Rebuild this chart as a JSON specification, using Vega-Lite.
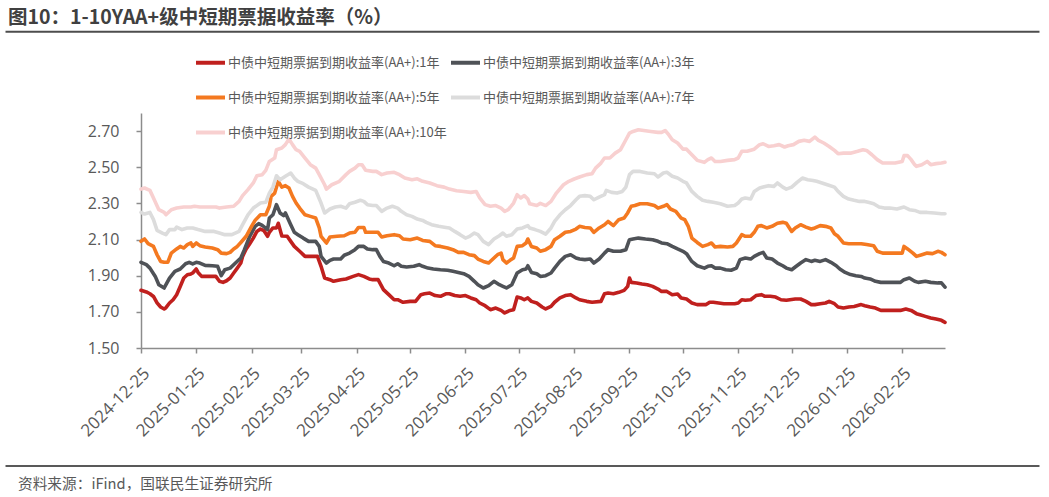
{
  "$schema": "https://vega.github.io/schema/vega-lite/v6.json",
  "width": 804,
  "height": 235,
  "autosize": {"type": "none"},
  "padding": {"left": 141, "top": 113, "right": 104, "bottom": 149},
  "background": "white",
  "config": {"view": {"stroke": null}, "font": "Noto Sans CJK SC"},
  "title": {
    "text": "图10：1-10YAA+级中短期票据收益率（%）",
    "anchor": "start",
    "frame": "group",
    "dx": -133,
    "fontSize": 19.5,
    "fontWeight": "bold",
    "color": "#404040",
    "font": "Noto Sans CJK SC",
    "offset": 2
  },
  "layer": [
    {
      "data": {
        "values": [
          {"s":"1年","d":"2024-12-25","v":1.819},{"s":"1年","d":"2024-12-28","v":1.81},{"s":"1年","d":"2024-12-30","v":1.80},{"s":"1年","d":"2025-01-01","v":1.785},{"s":"1年","d":"2025-01-03","v":1.75},{"s":"1年","d":"2025-01-05","v":1.727},{"s":"1年","d":"2025-01-07","v":1.716},{"s":"1年","d":"2025-01-08","v":1.723},{"s":"1年","d":"2025-01-10","v":1.749},{"s":"1年","d":"2025-01-12","v":1.767},{"s":"1年","d":"2025-01-14","v":1.795},{"s":"1年","d":"2025-01-16","v":1.84},{"s":"1年","d":"2025-01-18","v":1.887},{"s":"1年","d":"2025-01-20","v":1.905},{"s":"1年","d":"2025-01-22","v":1.91},{"s":"1年","d":"2025-01-23","v":1.915},{"s":"1年","d":"2025-01-25","v":1.937},{"s":"1年","d":"2025-01-26","v":1.918},{"s":"1年","d":"2025-01-28","v":1.896},{"s":"1年","d":"2025-01-31","v":1.896},{"s":"1年","d":"2025-02-03","v":1.896},{"s":"1年","d":"2025-02-05","v":1.896},{"s":"1年","d":"2025-02-07","v":1.869},{"s":"1年","d":"2025-02-09","v":1.863},{"s":"1年","d":"2025-02-11","v":1.872},{"s":"1年","d":"2025-02-13","v":1.887},{"s":"1年","d":"2025-02-15","v":1.915},{"s":"1年","d":"2025-02-17","v":1.942},{"s":"1年","d":"2025-02-19","v":1.97},{"s":"1年","d":"2025-02-20","v":2.007},{"s":"1年","d":"2025-02-22","v":2.048},{"s":"1年","d":"2025-02-24","v":2.077},{"s":"1年","d":"2025-02-26","v":2.108},{"s":"1年","d":"2025-02-28","v":2.145},{"s":"1年","d":"2025-03-02","v":2.158},{"s":"1年","d":"2025-03-04","v":2.149},{"s":"1年","d":"2025-03-06","v":2.118},{"s":"1年","d":"2025-03-07","v":2.14},{"s":"1年","d":"2025-03-09","v":2.164},{"s":"1年","d":"2025-03-11","v":2.164},{"s":"1年","d":"2025-03-12","v":2.19},{"s":"1年","d":"2025-03-14","v":2.12},{"s":"1年","d":"2025-03-17","v":2.118},{"s":"1年","d":"2025-03-19","v":2.09},{"s":"1年","d":"2025-03-21","v":2.062},{"s":"1年","d":"2025-03-24","v":2.035},{"s":"1年","d":"2025-03-27","v":2.007},{"s":"1年","d":"2025-03-30","v":2.007},{"s":"1年","d":"2025-04-03","v":2.007},{"s":"1年","d":"2025-04-05","v":1.952},{"s":"1年","d":"2025-04-07","v":1.887},{"s":"1年","d":"2025-04-10","v":1.878},{"s":"1年","d":"2025-04-12","v":1.869},{"s":"1年","d":"2025-04-16","v":1.878},{"s":"1年","d":"2025-04-19","v":1.882},{"s":"1年","d":"2025-04-23","v":1.896},{"s":"1年","d":"2025-04-26","v":1.906},{"s":"1年","d":"2025-04-29","v":1.896},{"s":"1年","d":"2025-05-02","v":1.882},{"s":"1年","d":"2025-05-04","v":1.878},{"s":"1年","d":"2025-05-07","v":1.878},{"s":"1年","d":"2025-05-10","v":1.823},{"s":"1年","d":"2025-05-13","v":1.795},{"s":"1年","d":"2025-05-16","v":1.767},{"s":"1年","d":"2025-05-18","v":1.767},{"s":"1年","d":"2025-05-21","v":1.753},{"s":"1年","d":"2025-05-25","v":1.758},{"s":"1年","d":"2025-05-28","v":1.758},{"s":"1年","d":"2025-05-31","v":1.795},{"s":"1年","d":"2025-06-02","v":1.80},{"s":"1年","d":"2025-06-05","v":1.804},{"s":"1年","d":"2025-06-08","v":1.79},{"s":"1年","d":"2025-06-11","v":1.786},{"s":"1年","d":"2025-06-14","v":1.80},{"s":"1年","d":"2025-06-16","v":1.80},{"s":"1年","d":"2025-06-19","v":1.79},{"s":"1年","d":"2025-06-22","v":1.786},{"s":"1年","d":"2025-06-25","v":1.79},{"s":"1年","d":"2025-06-28","v":1.777},{"s":"1年","d":"2025-07-01","v":1.767},{"s":"1年","d":"2025-07-03","v":1.749},{"s":"1年","d":"2025-07-06","v":1.734},{"s":"1年","d":"2025-07-09","v":1.712},{"s":"1年","d":"2025-07-12","v":1.721},{"s":"1年","d":"2025-07-15","v":1.708},{"s":"1年","d":"2025-07-17","v":1.694},{"s":"1年","d":"2025-07-20","v":1.708},{"s":"1年","d":"2025-07-22","v":1.712},{"s":"1年","d":"2025-07-24","v":1.782},{"s":"1年","d":"2025-07-26","v":1.777},{"s":"1年","d":"2025-07-28","v":1.767},{"s":"1年","d":"2025-07-30","v":1.777},{"s":"1年","d":"2025-08-01","v":1.758},{"s":"1年","d":"2025-08-04","v":1.749},{"s":"1年","d":"2025-08-07","v":1.727},{"s":"1年","d":"2025-08-09","v":1.716},{"s":"1年","d":"2025-08-12","v":1.73},{"s":"1年","d":"2025-08-14","v":1.753},{"s":"1年","d":"2025-08-17","v":1.777},{"s":"1年","d":"2025-08-20","v":1.79},{"s":"1年","d":"2025-08-23","v":1.795},{"s":"1年","d":"2025-08-26","v":1.777},{"s":"1年","d":"2025-08-28","v":1.767},{"s":"1年","d":"2025-09-01","v":1.758},{"s":"1年","d":"2025-09-04","v":1.753},{"s":"1年","d":"2025-09-09","v":1.758},{"s":"1年","d":"2025-09-11","v":1.80},{"s":"1年","d":"2025-09-13","v":1.804},{"s":"1年","d":"2025-09-16","v":1.80},{"s":"1年","d":"2025-09-19","v":1.808},{"s":"1年","d":"2025-09-22","v":1.819},{"s":"1年","d":"2025-09-24","v":1.841},{"s":"1年","d":"2025-09-25","v":1.887},{"s":"1年","d":"2025-09-26","v":1.863},{"s":"1年","d":"2025-09-29","v":1.86},{"s":"1年","d":"2025-10-02","v":1.854},{"s":"1年","d":"2025-10-05","v":1.85},{"s":"1年","d":"2025-10-08","v":1.841},{"s":"1年","d":"2025-10-11","v":1.826},{"s":"1年","d":"2025-10-13","v":1.813},{"s":"1年","d":"2025-10-16","v":1.813},{"s":"1年","d":"2025-10-19","v":1.795},{"s":"1年","d":"2025-10-22","v":1.799},{"s":"1年","d":"2025-10-24","v":1.777},{"s":"1年","d":"2025-10-27","v":1.771},{"s":"1年","d":"2025-10-30","v":1.749},{"s":"1年","d":"2025-11-02","v":1.74},{"s":"1年","d":"2025-11-07","v":1.74},{"s":"1年","d":"2025-11-09","v":1.753},{"s":"1年","d":"2025-11-11","v":1.753},{"s":"1年","d":"2025-11-14","v":1.749},{"s":"1年","d":"2025-11-17","v":1.745},{"s":"1年","d":"2025-11-23","v":1.745},{"s":"1年","d":"2025-11-25","v":1.749},{"s":"1年","d":"2025-11-27","v":1.767},{"s":"1年","d":"2025-11-29","v":1.764},{"s":"1年","d":"2025-12-02","v":1.767},{"s":"1年","d":"2025-12-05","v":1.79},{"s":"1年","d":"2025-12-08","v":1.795},{"s":"1年","d":"2025-12-10","v":1.786},{"s":"1年","d":"2025-12-13","v":1.786},{"s":"1年","d":"2025-12-16","v":1.782},{"s":"1年","d":"2025-12-19","v":1.767},{"s":"1年","d":"2025-12-22","v":1.764},{"s":"1年","d":"2025-12-24","v":1.767},{"s":"1年","d":"2025-12-27","v":1.771},{"s":"1年","d":"2025-12-30","v":1.771},{"s":"1年","d":"2026-01-02","v":1.758},{"s":"1年","d":"2026-01-05","v":1.74},{"s":"1年","d":"2026-01-07","v":1.74},{"s":"1年","d":"2026-01-10","v":1.745},{"s":"1年","d":"2026-01-13","v":1.749},{"s":"1年","d":"2026-01-15","v":1.758},{"s":"1年","d":"2026-01-18","v":1.745},{"s":"1年","d":"2026-01-20","v":1.727},{"s":"1年","d":"2026-01-23","v":1.721},{"s":"1年","d":"2026-01-26","v":1.727},{"s":"1年","d":"2026-01-29","v":1.73},{"s":"1年","d":"2026-02-02","v":1.74},{"s":"1年","d":"2026-02-04","v":1.734},{"s":"1年","d":"2026-02-07","v":1.727},{"s":"1年","d":"2026-02-10","v":1.721},{"s":"1年","d":"2026-02-13","v":1.708},{"s":"1年","d":"2026-02-17","v":1.708},{"s":"1年","d":"2026-02-20","v":1.708},{"s":"1年","d":"2026-02-24","v":1.708},{"s":"1年","d":"2026-02-27","v":1.716},{"s":"1年","d":"2026-03-02","v":1.708},{"s":"1年","d":"2026-03-05","v":1.69},{"s":"1年","d":"2026-03-07","v":1.684},{"s":"1年","d":"2026-03-10","v":1.675},{"s":"1年","d":"2026-03-13","v":1.666},{"s":"1年","d":"2026-03-16","v":1.66},{"s":"1年","d":"2026-03-19","v":1.653},{"s":"1年","d":"2026-03-21","v":1.642},

          {"s":"3年","d":"2024-12-25","v":1.974},{"s":"3年","d":"2024-12-28","v":1.961},{"s":"3年","d":"2024-12-30","v":1.942},{"s":"3年","d":"2025-01-02","v":1.896},{"s":"3年","d":"2025-01-04","v":1.85},{"s":"3年","d":"2025-01-07","v":1.832},{"s":"3年","d":"2025-01-08","v":1.85},{"s":"3年","d":"2025-01-10","v":1.887},{"s":"3年","d":"2025-01-13","v":1.924},{"s":"3年","d":"2025-01-16","v":1.937},{"s":"3年","d":"2025-01-19","v":1.966},{"s":"3年","d":"2025-01-21","v":1.974},{"s":"3年","d":"2025-01-23","v":1.965},{"s":"3年","d":"2025-01-25","v":1.974},{"s":"3年","d":"2025-01-27","v":1.97},{"s":"3年","d":"2025-01-30","v":1.957},{"s":"3年","d":"2025-02-03","v":1.955},{"s":"3年","d":"2025-02-06","v":1.952},{"s":"3年","d":"2025-02-08","v":1.90},{"s":"3年","d":"2025-02-10","v":1.933},{"s":"3年","d":"2025-02-13","v":1.942},{"s":"3年","d":"2025-02-16","v":1.97},{"s":"3年","d":"2025-02-19","v":1.998},{"s":"3年","d":"2025-02-21","v":2.044},{"s":"3年","d":"2025-02-24","v":2.118},{"s":"3年","d":"2025-02-27","v":2.173},{"s":"3年","d":"2025-03-01","v":2.188},{"s":"3年","d":"2025-03-03","v":2.178},{"s":"3年","d":"2025-03-06","v":2.155},{"s":"3年","d":"2025-03-07","v":2.219},{"s":"3年","d":"2025-03-09","v":2.237},{"s":"3年","d":"2025-03-11","v":2.293},{"s":"3年","d":"2025-03-13","v":2.247},{"s":"3年","d":"2025-03-15","v":2.232},{"s":"3年","d":"2025-03-16","v":2.247},{"s":"3年","d":"2025-03-19","v":2.182},{"s":"3年","d":"2025-03-21","v":2.14},{"s":"3年","d":"2025-03-23","v":2.127},{"s":"3年","d":"2025-03-26","v":2.108},{"s":"3年","d":"2025-03-29","v":2.09},{"s":"3年","d":"2025-04-02","v":2.09},{"s":"3年","d":"2025-04-04","v":2.062},{"s":"3年","d":"2025-04-05","v":2.007},{"s":"3年","d":"2025-04-08","v":1.97},{"s":"3年","d":"2025-04-10","v":1.985},{"s":"3年","d":"2025-04-12","v":1.992},{"s":"3年","d":"2025-04-16","v":1.992},{"s":"3年","d":"2025-04-18","v":2.013},{"s":"3年","d":"2025-04-21","v":2.025},{"s":"3年","d":"2025-04-24","v":2.044},{"s":"3年","d":"2025-04-26","v":2.062},{"s":"3年","d":"2025-04-29","v":2.062},{"s":"3年","d":"2025-05-01","v":2.048},{"s":"3年","d":"2025-05-04","v":2.044},{"s":"3年","d":"2025-05-06","v":2.044},{"s":"3年","d":"2025-05-08","v":2.007},{"s":"3年","d":"2025-05-10","v":1.979},{"s":"3年","d":"2025-05-13","v":1.97},{"s":"3年","d":"2025-05-16","v":1.955},{"s":"3年","d":"2025-05-18","v":1.966},{"s":"3年","d":"2025-05-20","v":1.952},{"s":"3年","d":"2025-05-23","v":1.948},{"s":"3年","d":"2025-05-27","v":1.952},{"s":"3年","d":"2025-05-30","v":1.961},{"s":"3年","d":"2025-06-01","v":1.952},{"s":"3年","d":"2025-06-04","v":1.942},{"s":"3年","d":"2025-06-07","v":1.937},{"s":"3年","d":"2025-06-11","v":1.933},{"s":"3年","d":"2025-06-15","v":1.93},{"s":"3年","d":"2025-06-18","v":1.924},{"s":"3年","d":"2025-06-21","v":1.918},{"s":"3年","d":"2025-06-24","v":1.911},{"s":"3年","d":"2025-06-27","v":1.896},{"s":"3年","d":"2025-06-30","v":1.869},{"s":"3年","d":"2025-07-02","v":1.85},{"s":"3年","d":"2025-07-05","v":1.832},{"s":"3年","d":"2025-07-08","v":1.845},{"s":"3年","d":"2025-07-11","v":1.869},{"s":"3年","d":"2025-07-14","v":1.85},{"s":"3年","d":"2025-07-16","v":1.841},{"s":"3年","d":"2025-07-18","v":1.832},{"s":"3年","d":"2025-07-21","v":1.85},{"s":"3年","d":"2025-07-24","v":1.915},{"s":"3年","d":"2025-07-27","v":1.933},{"s":"3年","d":"2025-07-29","v":1.937},{"s":"3年","d":"2025-07-30","v":1.955},{"s":"3年","d":"2025-08-01","v":1.918},{"s":"3年","d":"2025-08-04","v":1.911},{"s":"3年","d":"2025-08-06","v":1.896},{"s":"3年","d":"2025-08-09","v":1.90},{"s":"3年","d":"2025-08-12","v":1.915},{"s":"3年","d":"2025-08-14","v":1.942},{"s":"3年","d":"2025-08-17","v":1.979},{"s":"3年","d":"2025-08-20","v":2.007},{"s":"3年","d":"2025-08-23","v":2.016},{"s":"3年","d":"2025-08-26","v":1.998},{"s":"3年","d":"2025-08-28","v":1.992},{"s":"3年","d":"2025-08-31","v":1.989},{"s":"3年","d":"2025-09-03","v":1.992},{"s":"3年","d":"2025-09-05","v":1.97},{"s":"3年","d":"2025-09-08","v":1.992},{"s":"3年","d":"2025-09-11","v":2.025},{"s":"3年","d":"2025-09-13","v":2.044},{"s":"3年","d":"2025-09-16","v":2.035},{"s":"3年","d":"2025-09-20","v":2.035},{"s":"3年","d":"2025-09-23","v":2.044},{"s":"3年","d":"2025-09-25","v":2.099},{"s":"3年","d":"2025-09-27","v":2.103},{"s":"3年","d":"2025-09-30","v":2.108},{"s":"3年","d":"2025-10-04","v":2.103},{"s":"3年","d":"2025-10-08","v":2.099},{"s":"3年","d":"2025-10-11","v":2.09},{"s":"3年","d":"2025-10-13","v":2.081},{"s":"3年","d":"2025-10-16","v":2.077},{"s":"3年","d":"2025-10-19","v":2.062},{"s":"3年","d":"2025-10-22","v":2.048},{"s":"3年","d":"2025-10-25","v":2.035},{"s":"3年","d":"2025-10-27","v":2.022},{"s":"3年","d":"2025-10-30","v":1.979},{"s":"3年","d":"2025-11-02","v":1.955},{"s":"3年","d":"2025-11-06","v":1.942},{"s":"3年","d":"2025-11-08","v":1.952},{"s":"3年","d":"2025-11-10","v":1.955},{"s":"3年","d":"2025-11-12","v":1.942},{"s":"3年","d":"2025-11-15","v":1.942},{"s":"3年","d":"2025-11-18","v":1.933},{"s":"3年","d":"2025-11-21","v":1.93},{"s":"3年","d":"2025-11-24","v":1.942},{"s":"3年","d":"2025-11-26","v":1.989},{"s":"3年","d":"2025-11-29","v":1.998},{"s":"3年","d":"2025-12-02","v":1.992},{"s":"3年","d":"2025-12-04","v":2.007},{"s":"3年","d":"2025-12-07","v":2.022},{"s":"3年","d":"2025-12-09","v":2.029},{"s":"3年","d":"2025-12-11","v":1.998},{"s":"3年","d":"2025-12-14","v":1.992},{"s":"3年","d":"2025-12-17","v":1.97},{"s":"3年","d":"2025-12-20","v":1.955},{"s":"3年","d":"2025-12-22","v":1.942},{"s":"3年","d":"2025-12-25","v":1.933},{"s":"3年","d":"2025-12-27","v":1.948},{"s":"3年","d":"2025-12-30","v":1.97},{"s":"3年","d":"2026-01-02","v":1.989},{"s":"3年","d":"2026-01-05","v":1.979},{"s":"3年","d":"2026-01-07","v":1.985},{"s":"3年","d":"2026-01-10","v":1.979},{"s":"3年","d":"2026-01-13","v":1.989},{"s":"3年","d":"2026-01-16","v":1.974},{"s":"3年","d":"2026-01-19","v":1.955},{"s":"3年","d":"2026-01-21","v":1.937},{"s":"3年","d":"2026-01-24","v":1.918},{"s":"3年","d":"2026-01-27","v":1.906},{"s":"3年","d":"2026-01-30","v":1.90},{"s":"3年","d":"2026-02-02","v":1.896},{"s":"3年","d":"2026-02-04","v":1.887},{"s":"3年","d":"2026-02-07","v":1.882},{"s":"3年","d":"2026-02-10","v":1.869},{"s":"3年","d":"2026-02-13","v":1.863},{"s":"3年","d":"2026-02-18","v":1.863},{"s":"3年","d":"2026-02-21","v":1.863},{"s":"3年","d":"2026-02-24","v":1.863},{"s":"3年","d":"2026-02-26","v":1.878},{"s":"3年","d":"2026-03-01","v":1.887},{"s":"3年","d":"2026-03-04","v":1.869},{"s":"3年","d":"2026-03-06","v":1.863},{"s":"3年","d":"2026-03-10","v":1.869},{"s":"3年","d":"2026-03-13","v":1.863},{"s":"3年","d":"2026-03-17","v":1.86},{"s":"3年","d":"2026-03-19","v":1.86},{"s":"3年","d":"2026-03-21","v":1.837},

          {"s":"5年","d":"2024-12-25","v":2.09},{"s":"5年","d":"2024-12-27","v":2.103},{"s":"5年","d":"2024-12-29","v":2.077},{"s":"5年","d":"2025-01-01","v":2.062},{"s":"5年","d":"2025-01-03","v":2.016},{"s":"5年","d":"2025-01-05","v":1.979},{"s":"5年","d":"2025-01-07","v":1.974},{"s":"5年","d":"2025-01-09","v":1.974},{"s":"5年","d":"2025-01-11","v":2.025},{"s":"5年","d":"2025-01-14","v":2.048},{"s":"5年","d":"2025-01-16","v":2.062},{"s":"5年","d":"2025-01-18","v":2.053},{"s":"5年","d":"2025-01-20","v":2.072},{"s":"5年","d":"2025-01-22","v":2.081},{"s":"5年","d":"2025-01-23","v":2.062},{"s":"5年","d":"2025-01-25","v":2.081},{"s":"5年","d":"2025-01-27","v":2.066},{"s":"5年","d":"2025-01-30","v":2.059},{"s":"5年","d":"2025-02-03","v":2.053},{"s":"5年","d":"2025-02-06","v":2.044},{"s":"5年","d":"2025-02-08","v":2.025},{"s":"5年","d":"2025-02-11","v":2.022},{"s":"5年","d":"2025-02-13","v":2.029},{"s":"5年","d":"2025-02-15","v":2.048},{"s":"5年","d":"2025-02-17","v":2.062},{"s":"5年","d":"2025-02-19","v":2.084},{"s":"5年","d":"2025-02-22","v":2.118},{"s":"5年","d":"2025-02-25","v":2.173},{"s":"5年","d":"2025-02-27","v":2.206},{"s":"5年","d":"2025-03-02","v":2.237},{"s":"5年","d":"2025-03-05","v":2.237},{"s":"5年","d":"2025-03-07","v":2.284},{"s":"5年","d":"2025-03-08","v":2.339},{"s":"5年","d":"2025-03-10","v":2.357},{"s":"5年","d":"2025-03-12","v":2.422},{"s":"5年","d":"2025-03-14","v":2.39},{"s":"5年","d":"2025-03-16","v":2.398},{"s":"5年","d":"2025-03-18","v":2.385},{"s":"5年","d":"2025-03-20","v":2.339},{"s":"5年","d":"2025-03-22","v":2.302},{"s":"5年","d":"2025-03-24","v":2.274},{"s":"5年","d":"2025-03-27","v":2.237},{"s":"5年","d":"2025-03-30","v":2.228},{"s":"5年","d":"2025-04-02","v":2.219},{"s":"5年","d":"2025-04-04","v":2.164},{"s":"5年","d":"2025-04-05","v":2.118},{"s":"5年","d":"2025-04-08","v":2.081},{"s":"5年","d":"2025-04-10","v":2.114},{"s":"5年","d":"2025-04-14","v":2.118},{"s":"5年","d":"2025-04-18","v":2.121},{"s":"5年","d":"2025-04-21","v":2.136},{"s":"5年","d":"2025-04-24","v":2.14},{"s":"5年","d":"2025-04-26","v":2.167},{"s":"5年","d":"2025-04-29","v":2.167},{"s":"5年","d":"2025-04-30","v":2.14},{"s":"5年","d":"2025-05-04","v":2.14},{"s":"5年","d":"2025-05-07","v":2.14},{"s":"5年","d":"2025-05-09","v":2.114},{"s":"5年","d":"2025-05-12","v":2.121},{"s":"5年","d":"2025-05-16","v":2.127},{"s":"5年","d":"2025-05-19","v":2.121},{"s":"5年","d":"2025-05-21","v":2.103},{"s":"5年","d":"2025-05-25","v":2.099},{"s":"5年","d":"2025-05-29","v":2.108},{"s":"5年","d":"2025-06-01","v":2.095},{"s":"5年","d":"2025-06-05","v":2.09},{"s":"5年","d":"2025-06-08","v":2.066},{"s":"5年","d":"2025-06-11","v":2.062},{"s":"5年","d":"2025-06-15","v":2.053},{"s":"5年","d":"2025-06-18","v":2.044},{"s":"5年","d":"2025-06-21","v":2.029},{"s":"5年","d":"2025-06-24","v":2.029},{"s":"5年","d":"2025-06-27","v":2.016},{"s":"5年","d":"2025-06-30","v":2.011},{"s":"5年","d":"2025-07-02","v":1.992},{"s":"5年","d":"2025-07-05","v":1.979},{"s":"5年","d":"2025-07-08","v":1.97},{"s":"5年","d":"2025-07-11","v":1.998},{"s":"5年","d":"2025-07-13","v":2.016},{"s":"5年","d":"2025-07-15","v":2.025},{"s":"5年","d":"2025-07-16","v":1.989},{"s":"5年","d":"2025-07-18","v":1.97},{"s":"5年","d":"2025-07-20","v":1.985},{"s":"5年","d":"2025-07-22","v":1.998},{"s":"5年","d":"2025-07-24","v":2.062},{"s":"5年","d":"2025-07-27","v":2.066},{"s":"5年","d":"2025-07-29","v":2.081},{"s":"5年","d":"2025-07-30","v":2.103},{"s":"5年","d":"2025-08-01","v":2.062},{"s":"5年","d":"2025-08-04","v":2.053},{"s":"5年","d":"2025-08-06","v":2.035},{"s":"5年","d":"2025-08-09","v":2.044},{"s":"5年","d":"2025-08-12","v":2.062},{"s":"5年","d":"2025-08-14","v":2.099},{"s":"5年","d":"2025-08-17","v":2.118},{"s":"5年","d":"2025-08-20","v":2.14},{"s":"5年","d":"2025-08-23","v":2.145},{"s":"5年","d":"2025-08-26","v":2.158},{"s":"5年","d":"2025-08-28","v":2.173},{"s":"5年","d":"2025-08-31","v":2.167},{"s":"5年","d":"2025-09-03","v":2.164},{"s":"5年","d":"2025-09-05","v":2.14},{"s":"5年","d":"2025-09-08","v":2.164},{"s":"5年","d":"2025-09-11","v":2.182},{"s":"5年","d":"2025-09-13","v":2.20},{"s":"5年","d":"2025-09-16","v":2.177},{"s":"5年","d":"2025-09-19","v":2.21},{"s":"5年","d":"2025-09-22","v":2.219},{"s":"5年","d":"2025-09-24","v":2.247},{"s":"5年","d":"2025-09-26","v":2.284},{"s":"5年","d":"2025-09-28","v":2.288},{"s":"5年","d":"2025-10-01","v":2.298},{"s":"5年","d":"2025-10-05","v":2.298},{"s":"5年","d":"2025-10-09","v":2.288},{"s":"5年","d":"2025-10-11","v":2.274},{"s":"5年","d":"2025-10-14","v":2.284},{"s":"5年","d":"2025-10-16","v":2.293},{"s":"5年","d":"2025-10-18","v":2.269},{"s":"5年","d":"2025-10-21","v":2.256},{"s":"5年","d":"2025-10-24","v":2.219},{"s":"5年","d":"2025-10-26","v":2.21},{"s":"5年","d":"2025-10-28","v":2.173},{"s":"5年","d":"2025-10-30","v":2.108},{"s":"5年","d":"2025-11-02","v":2.084},{"s":"5年","d":"2025-11-05","v":2.062},{"s":"5年","d":"2025-11-08","v":2.072},{"s":"5年","d":"2025-11-10","v":2.081},{"s":"5年","d":"2025-11-12","v":2.059},{"s":"5年","d":"2025-11-15","v":2.062},{"s":"5年","d":"2025-11-19","v":2.059},{"s":"5年","d":"2025-11-22","v":2.062},{"s":"5年","d":"2025-11-24","v":2.081},{"s":"5年","d":"2025-11-27","v":2.127},{"s":"5年","d":"2025-11-29","v":2.118},{"s":"5年","d":"2025-12-02","v":2.118},{"s":"5年","d":"2025-12-04","v":2.14},{"s":"5年","d":"2025-12-06","v":2.173},{"s":"5年","d":"2025-12-08","v":2.177},{"s":"5年","d":"2025-12-11","v":2.164},{"s":"5年","d":"2025-12-14","v":2.173},{"s":"5年","d":"2025-12-17","v":2.19},{"s":"5年","d":"2025-12-20","v":2.195},{"s":"5年","d":"2025-12-22","v":2.19},{"s":"5年","d":"2025-12-25","v":2.145},{"s":"5年","d":"2025-12-27","v":2.164},{"s":"5年","d":"2025-12-30","v":2.182},{"s":"5年","d":"2026-01-02","v":2.169},{"s":"5年","d":"2026-01-05","v":2.158},{"s":"5年","d":"2026-01-07","v":2.164},{"s":"5年","d":"2026-01-10","v":2.177},{"s":"5年","d":"2026-01-13","v":2.173},{"s":"5年","d":"2026-01-16","v":2.164},{"s":"5年","d":"2026-01-18","v":2.132},{"s":"5年","d":"2026-01-20","v":2.118},{"s":"5年","d":"2026-01-23","v":2.081},{"s":"5年","d":"2026-01-26","v":2.077},{"s":"5年","d":"2026-01-29","v":2.077},{"s":"5年","d":"2026-02-02","v":2.077},{"s":"5年","d":"2026-02-05","v":2.072},{"s":"5年","d":"2026-02-09","v":2.066},{"s":"5年","d":"2026-02-11","v":2.035},{"s":"5年","d":"2026-02-14","v":2.025},{"s":"5年","d":"2026-02-18","v":2.025},{"s":"5年","d":"2026-02-21","v":2.025},{"s":"5年","d":"2026-02-25","v":2.025},{"s":"5年","d":"2026-02-26","v":2.062},{"s":"5年","d":"2026-02-28","v":2.048},{"s":"5年","d":"2026-03-03","v":2.025},{"s":"5年","d":"2026-03-05","v":2.007},{"s":"5年","d":"2026-03-08","v":2.016},{"s":"5年","d":"2026-03-11","v":2.025},{"s":"5年","d":"2026-03-14","v":2.022},{"s":"5年","d":"2026-03-17","v":2.035},{"s":"5年","d":"2026-03-19","v":2.029},{"s":"5年","d":"2026-03-21","v":2.016},

          {"s":"7年","d":"2024-12-25","v":2.25},{"s":"7年","d":"2024-12-27","v":2.241},{"s":"7年","d":"2024-12-30","v":2.25},{"s":"7年","d":"2025-01-01","v":2.21},{"s":"7年","d":"2025-01-03","v":2.151},{"s":"7年","d":"2025-01-06","v":2.136},{"s":"7年","d":"2025-01-08","v":2.127},{"s":"7年","d":"2025-01-10","v":2.155},{"s":"7年","d":"2025-01-13","v":2.155},{"s":"7年","d":"2025-01-14","v":2.169},{"s":"7年","d":"2025-01-17","v":2.155},{"s":"7年","d":"2025-01-20","v":2.164},{"s":"7年","d":"2025-01-23","v":2.164},{"s":"7年","d":"2025-01-26","v":2.155},{"s":"7年","d":"2025-01-30","v":2.145},{"s":"7年","d":"2025-02-04","v":2.145},{"s":"7年","d":"2025-02-07","v":2.136},{"s":"7年","d":"2025-02-10","v":2.127},{"s":"7年","d":"2025-02-14","v":2.127},{"s":"7年","d":"2025-02-18","v":2.145},{"s":"7年","d":"2025-02-20","v":2.182},{"s":"7年","d":"2025-02-23","v":2.237},{"s":"7年","d":"2025-02-26","v":2.274},{"s":"7年","d":"2025-03-02","v":2.302},{"s":"7年","d":"2025-03-05","v":2.306},{"s":"7年","d":"2025-03-07","v":2.357},{"s":"7年","d":"2025-03-09","v":2.39},{"s":"7年","d":"2025-03-11","v":2.453},{"s":"7年","d":"2025-03-13","v":2.431},{"s":"7年","d":"2025-03-16","v":2.45},{"s":"7年","d":"2025-03-19","v":2.468},{"s":"7年","d":"2025-03-21","v":2.44},{"s":"7年","d":"2025-03-23","v":2.422},{"s":"7年","d":"2025-03-26","v":2.409},{"s":"7年","d":"2025-03-29","v":2.39},{"s":"7年","d":"2025-04-02","v":2.372},{"s":"7年","d":"2025-04-05","v":2.302},{"s":"7年","d":"2025-04-07","v":2.247},{"s":"7年","d":"2025-04-10","v":2.269},{"s":"7年","d":"2025-04-13","v":2.28},{"s":"7年","d":"2025-04-16","v":2.284},{"s":"7年","d":"2025-04-19","v":2.274},{"s":"7年","d":"2025-04-21","v":2.298},{"s":"7年","d":"2025-04-24","v":2.306},{"s":"7年","d":"2025-04-27","v":2.317},{"s":"7年","d":"2025-04-29","v":2.311},{"s":"7年","d":"2025-05-01","v":2.293},{"s":"7年","d":"2025-05-04","v":2.288},{"s":"7年","d":"2025-05-06","v":2.288},{"s":"7年","d":"2025-05-09","v":2.256},{"s":"7年","d":"2025-05-12","v":2.274},{"s":"7年","d":"2025-05-15","v":2.284},{"s":"7年","d":"2025-05-18","v":2.274},{"s":"7年","d":"2025-05-20","v":2.256},{"s":"7年","d":"2025-05-23","v":2.237},{"s":"7年","d":"2025-05-26","v":2.228},{"s":"7年","d":"2025-05-29","v":2.213},{"s":"7年","d":"2025-06-01","v":2.206},{"s":"7年","d":"2025-06-03","v":2.195},{"s":"7年","d":"2025-06-06","v":2.182},{"s":"7年","d":"2025-06-10","v":2.173},{"s":"7年","d":"2025-06-14","v":2.167},{"s":"7年","d":"2025-06-16","v":2.164},{"s":"7年","d":"2025-06-19","v":2.145},{"s":"7年","d":"2025-06-22","v":2.127},{"s":"7年","d":"2025-06-25","v":2.108},{"s":"7年","d":"2025-06-27","v":2.116},{"s":"7年","d":"2025-06-30","v":2.136},{"s":"7年","d":"2025-07-02","v":2.127},{"s":"7年","d":"2025-07-05","v":2.09},{"s":"7年","d":"2025-07-08","v":2.072},{"s":"7年","d":"2025-07-11","v":2.103},{"s":"7年","d":"2025-07-14","v":2.121},{"s":"7年","d":"2025-07-16","v":2.136},{"s":"7年","d":"2025-07-18","v":2.118},{"s":"7年","d":"2025-07-21","v":2.127},{"s":"7年","d":"2025-07-24","v":2.158},{"s":"7年","d":"2025-07-27","v":2.164},{"s":"7年","d":"2025-07-30","v":2.177},{"s":"7年","d":"2025-07-31","v":2.164},{"s":"7年","d":"2025-08-03","v":2.155},{"s":"7年","d":"2025-08-06","v":2.145},{"s":"7年","d":"2025-08-09","v":2.13},{"s":"7年","d":"2025-08-12","v":2.164},{"s":"7年","d":"2025-08-14","v":2.20},{"s":"7年","d":"2025-08-17","v":2.237},{"s":"7年","d":"2025-08-20","v":2.265},{"s":"7年","d":"2025-08-23","v":2.288},{"s":"7年","d":"2025-08-26","v":2.32},{"s":"7年","d":"2025-08-28","v":2.339},{"s":"7年","d":"2025-08-31","v":2.343},{"s":"7年","d":"2025-09-03","v":2.339},{"s":"7年","d":"2025-09-05","v":2.32},{"s":"7年","d":"2025-09-08","v":2.335},{"s":"7年","d":"2025-09-11","v":2.348},{"s":"7年","d":"2025-09-12","v":2.372},{"s":"7年","d":"2025-09-15","v":2.361},{"s":"7年","d":"2025-09-18","v":2.357},{"s":"7年","d":"2025-09-21","v":2.366},{"s":"7年","d":"2025-09-23","v":2.39},{"s":"7年","d":"2025-09-25","v":2.459},{"s":"7年","d":"2025-09-27","v":2.477},{"s":"7年","d":"2025-10-01","v":2.477},{"s":"7年","d":"2025-10-05","v":2.468},{"s":"7年","d":"2025-10-09","v":2.464},{"s":"7年","d":"2025-10-11","v":2.446},{"s":"7年","d":"2025-10-14","v":2.468},{"s":"7年","d":"2025-10-16","v":2.472},{"s":"7年","d":"2025-10-19","v":2.45},{"s":"7年","d":"2025-10-22","v":2.44},{"s":"7年","d":"2025-10-25","v":2.422},{"s":"7年","d":"2025-10-27","v":2.413},{"s":"7年","d":"2025-10-30","v":2.366},{"s":"7年","d":"2025-11-02","v":2.339},{"s":"7年","d":"2025-11-05","v":2.317},{"s":"7年","d":"2025-11-08","v":2.311},{"s":"7年","d":"2025-11-11","v":2.306},{"s":"7年","d":"2025-11-15","v":2.298},{"s":"7年","d":"2025-11-19","v":2.284},{"s":"7年","d":"2025-11-23","v":2.288},{"s":"7年","d":"2025-11-25","v":2.302},{"s":"7年","d":"2025-11-27","v":2.324},{"s":"7年","d":"2025-11-29","v":2.33},{"s":"7年","d":"2025-12-02","v":2.324},{"s":"7年","d":"2025-12-04","v":2.366},{"s":"7年","d":"2025-12-07","v":2.385},{"s":"7年","d":"2025-12-09","v":2.39},{"s":"7年","d":"2025-12-12","v":2.398},{"s":"7年","d":"2025-12-15","v":2.394},{"s":"7年","d":"2025-12-17","v":2.413},{"s":"7年","d":"2025-12-20","v":2.39},{"s":"7年","d":"2025-12-22","v":2.379},{"s":"7年","d":"2025-12-25","v":2.39},{"s":"7年","d":"2025-12-28","v":2.416},{"s":"7年","d":"2025-12-31","v":2.44},{"s":"7年","d":"2026-01-03","v":2.431},{"s":"7年","d":"2026-01-06","v":2.427},{"s":"7年","d":"2026-01-08","v":2.422},{"s":"7年","d":"2026-01-11","v":2.413},{"s":"7年","d":"2026-01-14","v":2.403},{"s":"7年","d":"2026-01-18","v":2.39},{"s":"7年","d":"2026-01-20","v":2.366},{"s":"7年","d":"2026-01-23","v":2.339},{"s":"7年","d":"2026-01-26","v":2.324},{"s":"7年","d":"2026-01-29","v":2.317},{"s":"7年","d":"2026-02-01","v":2.311},{"s":"7年","d":"2026-02-04","v":2.311},{"s":"7年","d":"2026-02-06","v":2.306},{"s":"7年","d":"2026-02-09","v":2.298},{"s":"7年","d":"2026-02-12","v":2.28},{"s":"7年","d":"2026-02-15","v":2.274},{"s":"7年","d":"2026-02-18","v":2.274},{"s":"7年","d":"2026-02-22","v":2.269},{"s":"7年","d":"2026-02-26","v":2.28},{"s":"7年","d":"2026-03-01","v":2.265},{"s":"7年","d":"2026-03-04","v":2.261},{"s":"7年","d":"2026-03-07","v":2.25},{"s":"7年","d":"2026-03-11","v":2.25},{"s":"7年","d":"2026-03-15","v":2.247},{"s":"7年","d":"2026-03-19","v":2.243},{"s":"7年","d":"2026-03-21","v":2.243},

          {"s":"10年","d":"2024-12-25","v":2.379},{"s":"10年","d":"2024-12-27","v":2.385},{"s":"10年","d":"2024-12-30","v":2.372},{"s":"10年","d":"2025-01-01","v":2.33},{"s":"10年","d":"2025-01-04","v":2.265},{"s":"10年","d":"2025-01-07","v":2.25},{"s":"10年","d":"2025-01-08","v":2.237},{"s":"10年","d":"2025-01-11","v":2.265},{"s":"10年","d":"2025-01-14","v":2.274},{"s":"10年","d":"2025-01-18","v":2.28},{"s":"10年","d":"2025-01-22","v":2.28},{"s":"10年","d":"2025-01-24","v":2.284},{"s":"10年","d":"2025-01-27","v":2.28},{"s":"10年","d":"2025-01-31","v":2.28},{"s":"10年","d":"2025-02-05","v":2.28},{"s":"10年","d":"2025-02-07","v":2.274},{"s":"10年","d":"2025-02-11","v":2.28},{"s":"10年","d":"2025-02-15","v":2.284},{"s":"10年","d":"2025-02-18","v":2.311},{"s":"10年","d":"2025-02-20","v":2.343},{"s":"10年","d":"2025-02-23","v":2.376},{"s":"10年","d":"2025-02-26","v":2.413},{"s":"10年","d":"2025-02-28","v":2.453},{"s":"10年","d":"2025-03-03","v":2.459},{"s":"10年","d":"2025-03-05","v":2.483},{"s":"10年","d":"2025-03-07","v":2.532},{"s":"10年","d":"2025-03-10","v":2.551},{"s":"10年","d":"2025-03-11","v":2.597},{"s":"10年","d":"2025-03-14","v":2.606},{"s":"10年","d":"2025-03-16","v":2.625},{"s":"10年","d":"2025-03-18","v":2.656},{"s":"10年","d":"2025-03-20","v":2.625},{"s":"10年","d":"2025-03-22","v":2.597},{"s":"10年","d":"2025-03-24","v":2.588},{"s":"10年","d":"2025-03-27","v":2.551},{"s":"10年","d":"2025-03-30","v":2.514},{"s":"10年","d":"2025-04-02","v":2.495},{"s":"10年","d":"2025-04-04","v":2.459},{"s":"10年","d":"2025-04-07","v":2.403},{"s":"10年","d":"2025-04-08","v":2.379},{"s":"10年","d":"2025-04-11","v":2.403},{"s":"10年","d":"2025-04-15","v":2.42},{"s":"10年","d":"2025-04-19","v":2.459},{"s":"10年","d":"2025-04-21","v":2.477},{"s":"10年","d":"2025-04-24","v":2.495},{"s":"10年","d":"2025-04-26","v":2.514},{"s":"10年","d":"2025-04-28","v":2.514},{"s":"10年","d":"2025-04-30","v":2.483},{"s":"10年","d":"2025-05-04","v":2.477},{"s":"10年","d":"2025-05-06","v":2.477},{"s":"10年","d":"2025-05-09","v":2.459},{"s":"10年","d":"2025-05-12","v":2.468},{"s":"10年","d":"2025-05-16","v":2.472},{"s":"10年","d":"2025-05-19","v":2.459},{"s":"10年","d":"2025-05-22","v":2.44},{"s":"10年","d":"2025-05-26","v":2.431},{"s":"10年","d":"2025-05-29","v":2.436},{"s":"10年","d":"2025-06-01","v":2.422},{"s":"10年","d":"2025-06-05","v":2.413},{"s":"10年","d":"2025-06-09","v":2.398},{"s":"10年","d":"2025-06-13","v":2.39},{"s":"10年","d":"2025-06-16","v":2.379},{"s":"10年","d":"2025-06-20","v":2.37},{"s":"10年","d":"2025-06-24","v":2.366},{"s":"10年","d":"2025-06-28","v":2.361},{"s":"10年","d":"2025-07-01","v":2.366},{"s":"10年","d":"2025-07-03","v":2.33},{"s":"10年","d":"2025-07-06","v":2.293},{"s":"10年","d":"2025-07-09","v":2.284},{"s":"10年","d":"2025-07-12","v":2.288},{"s":"10年","d":"2025-07-15","v":2.274},{"s":"10年","d":"2025-07-17","v":2.256},{"s":"10年","d":"2025-07-19","v":2.265},{"s":"10年","d":"2025-07-22","v":2.302},{"s":"10年","d":"2025-07-24","v":2.348},{"s":"10年","d":"2025-07-26","v":2.33},{"s":"10年","d":"2025-07-28","v":2.343},{"s":"10年","d":"2025-07-30","v":2.324},{"s":"10年","d":"2025-07-31","v":2.298},{"s":"10年","d":"2025-08-04","v":2.288},{"s":"10年","d":"2025-08-06","v":2.30},{"s":"10年","d":"2025-08-09","v":2.288},{"s":"10年","d":"2025-08-12","v":2.311},{"s":"10年","d":"2025-08-15","v":2.357},{"s":"10年","d":"2025-08-19","v":2.403},{"s":"10年","d":"2025-08-22","v":2.422},{"s":"10年","d":"2025-08-25","v":2.435},{"s":"10年","d":"2025-08-28","v":2.446},{"s":"10年","d":"2025-09-01","v":2.459},{"s":"10年","d":"2025-09-04","v":2.464},{"s":"10年","d":"2025-09-06","v":2.495},{"s":"10年","d":"2025-09-09","v":2.523},{"s":"10年","d":"2025-09-11","v":2.551},{"s":"10年","d":"2025-09-14","v":2.551},{"s":"10年","d":"2025-09-17","v":2.578},{"s":"10年","d":"2025-09-20","v":2.597},{"s":"10年","d":"2025-09-23","v":2.652},{"s":"10年","d":"2025-09-25","v":2.689},{"s":"10年","d":"2025-09-27","v":2.698},{"s":"10年","d":"2025-09-30","v":2.707},{"s":"10年","d":"2025-10-03","v":2.703},{"s":"10年","d":"2025-10-07","v":2.698},{"s":"10年","d":"2025-10-11","v":2.693},{"s":"10年","d":"2025-10-13","v":2.693},{"s":"10年","d":"2025-10-15","v":2.703},{"s":"10年","d":"2025-10-17","v":2.68},{"s":"10年","d":"2025-10-19","v":2.652},{"s":"10年","d":"2025-10-22","v":2.634},{"s":"10年","d":"2025-10-25","v":2.60},{"s":"10年","d":"2025-10-27","v":2.60},{"s":"10年","d":"2025-10-30","v":2.569},{"s":"10年","d":"2025-11-02","v":2.538},{"s":"10年","d":"2025-11-06","v":2.527},{"s":"10年","d":"2025-11-08","v":2.542},{"s":"10年","d":"2025-11-10","v":2.551},{"s":"10年","d":"2025-11-12","v":2.532},{"s":"10年","d":"2025-11-15","v":2.532},{"s":"10年","d":"2025-11-19","v":2.538},{"s":"10年","d":"2025-11-23","v":2.542},{"s":"10年","d":"2025-11-25","v":2.551},{"s":"10年","d":"2025-11-27","v":2.588},{"s":"10年","d":"2025-11-30","v":2.588},{"s":"10年","d":"2025-12-04","v":2.60},{"s":"10年","d":"2025-12-07","v":2.625},{"s":"10年","d":"2025-12-09","v":2.63},{"s":"10年","d":"2025-12-12","v":2.615},{"s":"10年","d":"2025-12-15","v":2.619},{"s":"10年","d":"2025-12-18","v":2.625},{"s":"10年","d":"2025-12-21","v":2.612},{"s":"10年","d":"2025-12-23","v":2.619},{"s":"10年","d":"2025-12-26","v":2.625},{"s":"10年","d":"2025-12-29","v":2.643},{"s":"10年","d":"2026-01-01","v":2.649},{"s":"10年","d":"2026-01-04","v":2.643},{"s":"10年","d":"2026-01-07","v":2.667},{"s":"10年","d":"2026-01-09","v":2.649},{"s":"10年","d":"2026-01-12","v":2.634},{"s":"10年","d":"2026-01-15","v":2.615},{"s":"10年","d":"2026-01-18","v":2.593},{"s":"10年","d":"2026-01-20","v":2.575},{"s":"10年","d":"2026-01-23","v":2.578},{"s":"10年","d":"2026-01-27","v":2.578},{"s":"10年","d":"2026-01-31","v":2.588},{"s":"10年","d":"2026-02-03","v":2.597},{"s":"10年","d":"2026-02-05","v":2.593},{"s":"10年","d":"2026-02-08","v":2.569},{"s":"10年","d":"2026-02-11","v":2.542},{"s":"10年","d":"2026-02-14","v":2.523},{"s":"10年","d":"2026-02-18","v":2.523},{"s":"10年","d":"2026-02-21","v":2.523},{"s":"10年","d":"2026-02-25","v":2.532},{"s":"10年","d":"2026-02-26","v":2.564},{"s":"10年","d":"2026-02-28","v":2.564},{"s":"10年","d":"2026-03-02","v":2.542},{"s":"10年","d":"2026-03-04","v":2.514},{"s":"10年","d":"2026-03-05","v":2.505},{"s":"10年","d":"2026-03-08","v":2.514},{"s":"10年","d":"2026-03-11","v":2.532},{"s":"10年","d":"2026-03-13","v":2.514},{"s":"10年","d":"2026-03-16","v":2.52},{"s":"10年","d":"2026-03-19","v":2.523},{"s":"10年","d":"2026-03-21","v":2.527}
        ]
      },
      "mark": {"type": "line", "strokeWidth": 3.6, "strokeJoin": "round", "strokeCap": "round"},
      "encoding": {
        "x": {
          "field": "d",
          "type": "temporal",
          "scale": {
            "type": "utc",
            "domain": [
              {"year": 2024, "month": 12, "date": 25, "utc": true},
              {"year": 2026, "month": 3, "date": 21, "utc": true}
            ]
          },
          "axis": {
            "title": null,
            "grid": false,
            "format": "%Y-%m-%d",
            "tickCount": 30,
            "values": [
              {"year": 2024, "month": 12, "date": 25, "utc": true},
              {"year": 2025, "month": 1, "date": 25, "utc": true},
              {"year": 2025, "month": 2, "date": 25, "utc": true},
              {"year": 2025, "month": 3, "date": 25, "utc": true},
              {"year": 2025, "month": 4, "date": 25, "utc": true},
              {"year": 2025, "month": 5, "date": 25, "utc": true},
              {"year": 2025, "month": 6, "date": 25, "utc": true},
              {"year": 2025, "month": 7, "date": 25, "utc": true},
              {"year": 2025, "month": 8, "date": 25, "utc": true},
              {"year": 2025, "month": 9, "date": 25, "utc": true},
              {"year": 2025, "month": 10, "date": 25, "utc": true},
              {"year": 2025, "month": 11, "date": 25, "utc": true},
              {"year": 2025, "month": 12, "date": 25, "utc": true},
              {"year": 2026, "month": 1, "date": 25, "utc": true},
              {"year": 2026, "month": 2, "date": 25, "utc": true}
            ],
            "labelAngle": -45,
            "labelFlush": false,
            "labelOverlap": false,
            "labelFont": "Open Sans",
            "labelFontSize": 17,
            "labelColor": "#595959",
            "labelPadding": 12,
            "tickSize": 5,
            "tickWidth": 1.5,
            "tickColor": "#8C8C8C",
            "domainColor": "#8C8C8C",
            "domainWidth": 1.5
          }
        },
        "y": {
          "field": "v",
          "type": "quantitative",
          "scale": {"domain": [1.5, 2.8], "nice": false, "zero": false},
          "axis": {
            "title": null,
            "grid": false,
            "tickCount": 10,
            "values": [1.5, 1.7, 1.9, 2.1, 2.3, 2.5, 2.7],
            "format": ".2f",
            "labelOverlap": false,
            "labelFont": "Open Sans",
            "labelFontSize": 16,
            "labelColor": "#595959",
            "labelPadding": 17,
            "tickSize": 5,
            "tickWidth": 1.5,
            "tickColor": "#8C8C8C",
            "domainColor": "#8C8C8C",
            "domainWidth": 1.5
          }
        },
        "color": {
          "field": "s",
          "type": "nominal",
          "scale": {
            "domain": ["1年", "3年", "5年", "7年", "10年"],
            "range": ["#C0201E", "#4F5257", "#F47920", "#DCDCDC", "#F8D0D0"]
          },
          "legend": {
            "title": null,
            "orient": "none",
            "legendX": 53,
            "legendY": -67,
            "columns": 2,
            "direction": "horizontal",
            "padding": 0,
            "symbolType": "stroke",
            "symbolSize": 841,
            "symbolStrokeWidth": 4,
            "labelFont": "Noto Sans CJK SC",
            "labelFontSize": 13,
            "labelColor": "#595959",
            "labelOffset": 1,
            "labelLimit": 400,
            "rowPadding": 10,
            "columnPadding": -4,
            "labelExpr": "'中债中短期票据到期收益率(AA+):' + datum.label"
          }
        }
      }
    },
    {
      "data": {"values": [{}]},
      "mark": {"type": "rule", "strokeWidth": 2, "color": "#4D4D4D"},
      "encoding": {
        "x": {"datum": {"year": 2024, "month": 10, "date": 10, "utc": true}, "type": "temporal"},
        "x2": {"datum": {"year": 2026, "month": 5, "date": 13, "utc": true}},
        "y": {"datum": 3.25, "type": "quantitative"}
      }
    },
    {
      "data": {"values": [{}]},
      "mark": {"type": "rule", "strokeWidth": 2, "color": "#595959"},
      "encoding": {
        "x": {"datum": {"year": 2024, "month": 10, "date": 10, "utc": true}, "type": "temporal"},
        "x2": {"datum": {"year": 2026, "month": 5, "date": 13, "utc": true}},
        "y": {"datum": 0.847, "type": "quantitative"}
      }
    },
    {
      "data": {"values": [{}]},
      "mark": {"type": "text", "align": "left", "baseline": "middle", "fontSize": 14.7, "color": "#595959", "font": "Noto Sans CJK SC"},
      "encoding": {
        "x": {"datum": {"year": 2024, "month": 10, "date": 17, "utc": true}, "type": "temporal"},
        "y": {"datum": 0.742, "type": "quantitative"},
        "text": {"value": "资料来源：iFind，国联民生证券研究所"}
      }
    }
  ]
}
